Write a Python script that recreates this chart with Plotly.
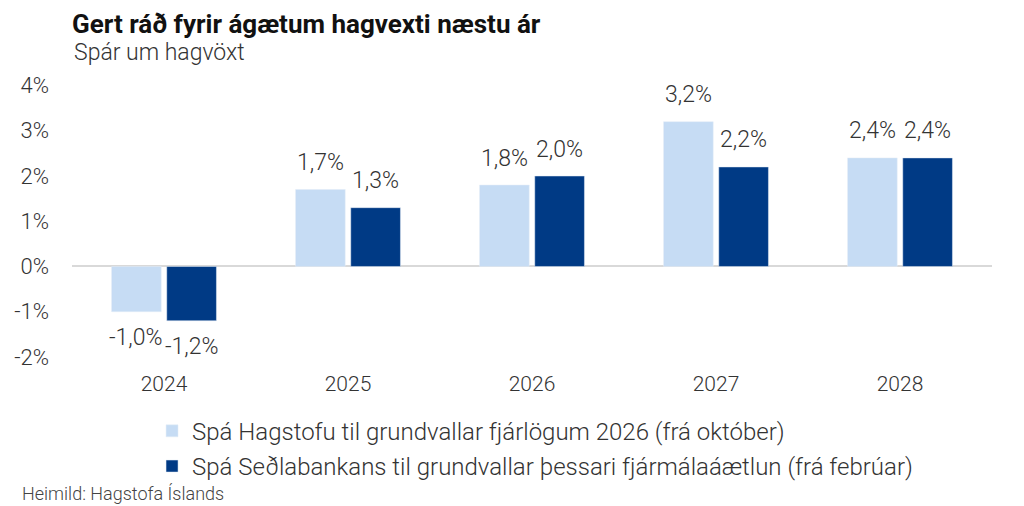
import plotly.graph_objects as go

# gögn
years = ["2024", "2025", "2026", "2027", "2028"]
hagstofa = [-1.0, 1.7, 1.8, 3.2, 2.4]
sedlabanki = [-1.2, 1.3, 2.0, 2.2, 2.4]
tick_vals = [-2, -1, 0, 1, 2, 3, 4]
tick_text = ["-2%", "-1%", "0%", "1%", "2%", "3%", "4%"]

name_hag = "Spá Hagstofu til grundvallar fjárlögum 2026 (frá október)"
name_sed = "Spá Seðlabankans til grundvallar þessari fjármálaáætlun (frá febrúar)"


def pct(v):
    return "{:.1f}%".format(v).replace(".", ",")


font = "Roboto"
txt_col = "#333333"

fig = go.Figure()

fig.add_trace(go.Bar(
    x=years, y=hagstofa, name=name_hag, legendgroup="a",
    marker=dict(color="#c6dcf4"),
))
fig.add_trace(go.Bar(
    x=years, y=sedlabanki, name=name_sed, legendgroup="b",
    marker=dict(color="#003a85"),
))

# gildismerki ofan/neðan súlna (x = númer flokks á flokkaás)
for vals, dx in [(hagstofa, -27.6), (sedlabanki, 27.6)]:
    for i, v in enumerate(vals):
        fig.add_annotation(
            x=i, y=v, xref="x", yref="y", text=pct(v), showarrow=False,
            xshift=dx, yanchor="middle", yshift=27 if v >= 0 else -26,
            font=dict(size=23, color=txt_col, family=font, weight=300),
        )

fig.update_layout(
    width=1024, height=506,
    margin=dict(l=64, r=40, t=73, b=148, autoexpand=False),
    paper_bgcolor="white", plot_bgcolor="white",
    font=dict(family=font, size=21, color=txt_col, weight=300),
    barmode="group", bargap=0.4, bargroupgap=0.1,
    showlegend=True,
    legend=dict(
        orientation="v", x=0.087, xanchor="left", y=-0.15, yanchor="top",
        font=dict(size=24, color=txt_col, family=font, weight=300),
        tracegroupgap=1, itemwidth=30,
    ),
    xaxis=dict(type="category", range=[-0.5, len(years) - 0.5],
               showgrid=False, showline=False, ticks="",
               automargin=False, ticklabelstandoff=3,
               tickfont=dict(size=21, color=txt_col)),
    yaxis=dict(range=[-2.2, 4.1], tickvals=tick_vals, ticktext=tick_text,
               showgrid=False, zeroline=True, zerolinecolor="#d9d9d9",
               zerolinewidth=2, ticks="", ticklabelstandoff=22,
               automargin=False,
               tickfont=dict(size=22, color=txt_col)),
)

fig.add_annotation(
    text="<b>Gert ráð fyrir ágætum hagvexti næstu ár</b>",
    xref="paper", yref="paper", x=-0.002, xanchor="left",
    y=1.0, yanchor="middle", yshift=57, showarrow=False,
    font=dict(size=26, color="#111111", family=font, weight=700),
)
fig.add_annotation(
    text="Spár um hagvöxt",
    xref="paper", yref="paper", x=0.0, xanchor="left",
    y=1.0, yanchor="middle", yshift=29, showarrow=False,
    font=dict(size=23, color=txt_col, family=font, weight=300),
)
fig.add_annotation(
    text="Heimild: Hagstofa Íslands",
    xref="paper", yref="paper", x=-0.0565, xanchor="left",
    y=0, yanchor="middle", yshift=-127, showarrow=False,
    font=dict(size=18, color="#444444", family=font, weight=300),
)

fig.write_html("out.html")
